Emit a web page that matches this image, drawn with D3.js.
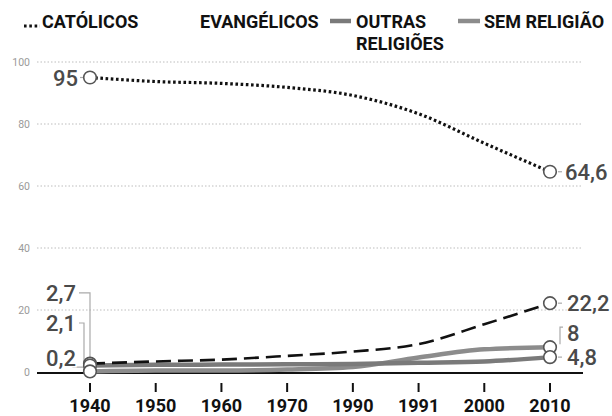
<!DOCTYPE html>
<html><head><meta charset="utf-8">
<script src="https://cdn.jsdelivr.net/npm/d3@7"></script>
<style>body{margin:0;background:#fff}svg{display:block}</style>
</head><body>
<svg id="c" width="612" height="416"></svg>
<script>
const years = ["1940","1950","1960","1970","1990","1991","2000","2010"];
const catolicos = [95, 93.7, 93.1, 91.8, 89.2, 83.3, 73.8, 64.6];
const evangelicos = [2.7, 3.4, 4.0, 5.2, 6.6, 9.0, 15.4, 22.2];
const outras = [2.1, 2.3, 2.4, 2.5, 2.6, 3.0, 3.4, 4.8];
const semReligiao = [0.2, 0.5, 0.5, 0.8, 1.6, 4.7, 7.3, 8];
const yTicks = [0, 20, 40, 60, 80, 100];

const svg = d3.select("#c");
const x = d3.scalePoint().domain(years).range([90, 550]);
const y = d3.scaleLinear().domain([0, 100]).range([372, 62]);
const F = "Roboto, 'Liberation Sans', sans-serif";

// grid
svg.append("g").selectAll("line").data(yTicks.filter(d => d > 0)).join("line")
  .attr("x1", 37).attr("x2", 583).attr("y1", d => y(d)).attr("y2", d => y(d))
  .attr("stroke", "#bdbdbd").attr("stroke-width", 1).attr("stroke-dasharray", "1.5,2");
svg.append("g").selectAll("text").data(yTicks).join("text")
  .attr("x", 30).attr("y", d => y(d) + 4).attr("text-anchor", "end")
  .attr("font-family", F).attr("font-size", 10.5).attr("fill", "#9a9a9a").text(d => d);

// baseline
svg.append("line").attr("x1", 37).attr("x2", 583).attr("y1", y(0) + 1).attr("y2", y(0) + 1)
  .attr("stroke", "#111").attr("stroke-width", 2.2);

// x ticks
const xa = svg.append("g");
xa.selectAll("line").data(years).join("line")
  .attr("x1", d => x(d)).attr("x2", d => x(d)).attr("y1", 383).attr("y2", 392)
  .attr("stroke", "#111").attr("stroke-width", 2);
xa.selectAll("text").data(years).join("text")
  .attr("x", d => x(d)).attr("y", 412).attr("text-anchor", "middle")
  .attr("font-family", F).attr("font-weight", 700).attr("font-size", 18).attr("fill", "#111").text(d => d);

const line = vals => d3.line().x((d, i) => x(years[i])).y(d => y(d)).curve(d3.curveMonotoneX)(vals);

svg.append("path").attr("d", line(semReligiao)).attr("fill", "none")
  .attr("stroke", "#8c8c8c").attr("stroke-width", 4.5);
svg.append("path").attr("d", line(outras)).attr("fill", "none")
  .attr("stroke", "#7a7a7a").attr("stroke-width", 4.5);
svg.append("path").attr("d", line(evangelicos)).attr("fill", "none")
  .attr("stroke", "#111").attr("stroke-width", 2.6).attr("stroke-dasharray", "15,7");
svg.append("path").attr("d", line(catolicos)).attr("fill", "none")
  .attr("stroke", "#111").attr("stroke-width", 3.2).attr("stroke-dasharray", "2.6,2.6");

// leader lines
const lg = svg.append("g").attr("stroke", "#aaa").attr("stroke-width", 1.2).attr("fill", "none");
const x0 = x("1940"), xN = x("2010");
lg.append("path").attr("d", `M79,${y(25.5)}H${x0}V${y(evangelicos[0]) - 5}`);
lg.append("path").attr("d", `M79,${y(15.8)}H${x0 - 6}V${y(outras[0]) - 3}`);
lg.append("path").attr("d", `M73,${y(2.2)}V${y(1.6)}H${x0 - 5}`);
lg.append("path").attr("d", `M${x0 - 10},${y(catolicos[0])}H${x0 - 6}`);
lg.append("path").attr("d", `M${xN + 8},${y(catolicos[7])}H${xN + 12}`);
lg.append("path").attr("d", `M${xN + 8},${y(evangelicos[7])}H${xN + 12}`);
lg.append("path").attr("d", `M${xN + 13},${y(14.5)}H${xN + 10}V${y(semReligiao[7]) - 3}`);
lg.append("path").attr("d", `M${xN + 8},${y(outras[7])}H${xN + 12}`);

// circles
const circ = [[0, catolicos[0]], [7, catolicos[7]], [0, evangelicos[0]], [7, evangelicos[7]],
  [0, outras[0]], [0, semReligiao[0]], [7, semReligiao[7]], [7, outras[7]]];
svg.append("g").selectAll("circle").data(circ).join("circle")
  .attr("cx", d => x(years[d[0]])).attr("cy", d => y(d[1])).attr("r", 6.3)
  .attr("fill", "#fff").attr("stroke", "#555").attr("stroke-width", 1.6);

// value labels
const lab = [
  [78, catolicos[0], "95", "end"],
  [xN + 15, catolicos[7], "64,6", "start"],
  [76, 25.5, "2,7", "end"],
  [76, 15.8, "2,1", "end"],
  [76, 4.6, "0,2", "end"],
  [xN + 17, evangelicos[7], "22,2", "start"],
  [xN + 17, 12.6, "8", "start"],
  [xN + 17, outras[7], "4,8", "start"]
];
svg.append("g").selectAll("text").data(lab).join("text")
  .attr("x", d => d[0]).attr("y", d => y(d[1]) + 8).attr("text-anchor", d => d[3])
  .attr("font-family", F).attr("font-weight", 500).attr("font-size", 22).attr("fill", "#4a4a4a")
  .attr("stroke", "#fff").attr("stroke-width", 3).attr("paint-order", "stroke").text(d => d[2]);

// legend
const lgd = svg.append("g").attr("font-family", F).attr("font-weight", 700).attr("font-size", 18).attr("fill", "#111");
lgd.append("line").attr("x1", 24).attr("x2", 40).attr("y1", 26).attr("y2", 26)
  .attr("stroke", "#111").attr("stroke-width", 3).attr("stroke-dasharray", "2.6,2.7");
lgd.append("text").attr("x", 42).attr("y", 28).text("CATÓLICOS");
lgd.append("text").attr("x", 200).attr("y", 28).text("EVANGÉLICOS");
lgd.append("line").attr("x1", 330).attr("x2", 351).attr("y1", 21).attr("y2", 21)
  .attr("stroke", "#7a7a7a").attr("stroke-width", 4.5);
lgd.append("text").attr("x", 356).attr("y", 28).text("OUTRAS");
lgd.append("text").attr("x", 356).attr("y", 50).text("RELIGIÕES");
lgd.append("line").attr("x1", 458).attr("x2", 480).attr("y1", 21).attr("y2", 21)
  .attr("stroke", "#8c8c8c").attr("stroke-width", 4.5);
lgd.append("text").attr("x", 484).attr("y", 28).text("SEM RELIGIÃO");
</script>
</body></html>
